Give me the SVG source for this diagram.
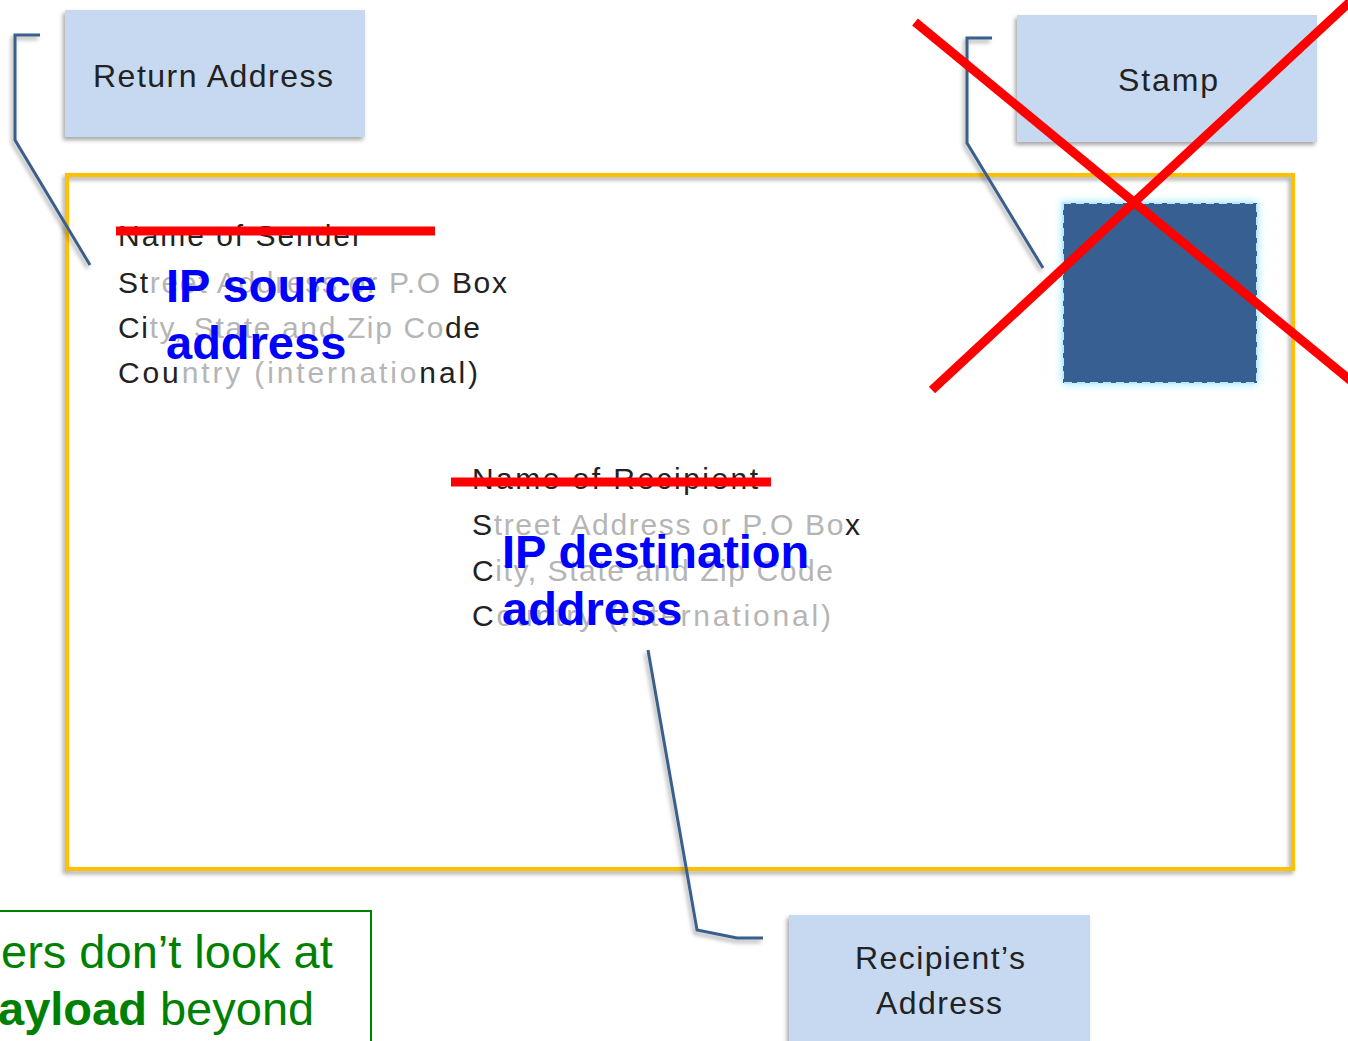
<svg xmlns="http://www.w3.org/2000/svg" width="1348" height="1041" viewBox="0 0 1348 1041">
<defs>
<filter id="sh" x="-10%" y="-10%" width="120%" height="130%">
<feDropShadow dx="-2" dy="3" stdDeviation="2" flood-color="#000" flood-opacity="0.35"/>
</filter>
<filter id="glow" x="-20%" y="-20%" width="140%" height="140%">
<feDropShadow dx="0" dy="0" stdDeviation="4" flood-color="#8FE6FF" flood-opacity="1"/>
</filter>
<style>
.lbl{fill:#C6D9F1;}
.lt{font-family:"Liberation Sans",Arial,sans-serif;font-size:32px;fill:#222;}
.addr{font-family:"Liberation Sans",Arial,sans-serif;font-size:30px;fill:#222;}
.fade{fill:#B5B5B5;}
.ip{font-family:"Liberation Sans",Arial,sans-serif;font-size:47px;font-weight:bold;fill:#0000FF;}
.call{fill:none;stroke:#3A5F8C;stroke-width:3;filter:url(#sh);}
.red{stroke:#FF0000;stroke-width:9;}
.gt{font-family:"Liberation Sans",Arial,sans-serif;font-size:47px;fill:#008000;}
</style>
</defs>
<rect width="1348" height="1041" fill="#fff"/>

<g id="envelope">
<rect x="67" y="175" width="1226" height="694" fill="none" stroke="#FFC000" stroke-width="4" filter="url(#sh)"/>
</g>

<g id="return-address">
<rect class="lbl" x="65" y="10" width="300" height="127" filter="url(#sh)"/>
<text class="lt" x="93" y="87" textLength="240">Return Address</text>
</g>

<g id="stamp-label">
<rect class="lbl" x="1017" y="15" width="300" height="127" filter="url(#sh)"/>
<text class="lt" x="1118" y="91" textLength="100">Stamp</text>
</g>

<g id="recipient-label">
<rect class="lbl" x="789" y="915" width="301" height="130" filter="url(#sh)"/>
<text class="lt" x="855" y="969" textLength="170">Recipient’s</text>
<text class="lt" x="876" y="1014" textLength="126">Address</text>
</g>

<g id="stamp">
<rect x="1063" y="203" width="194" height="180" fill="#375F91" stroke="#BFE8FF" stroke-width="2" stroke-dasharray="8 5" filter="url(#glow)"/>
</g>

<g id="sender">
<text class="addr" x="118" y="246" textLength="244">Name of Sender</text>
<text class="addr" x="118" y="293" textLength="389">St<tspan class="fade">reet Address or P.O</tspan> Box</text>
<text class="addr" x="118" y="338" textLength="362">Ci<tspan class="fade">ty, State and Zip Co</tspan>de</text>
<text class="addr" x="118" y="383" textLength="360">Cou<tspan class="fade">ntry (internatio</tspan>nal)</text>
<line class="red" x1="116" y1="231" x2="435" y2="231"/>
<text class="ip" x="166" y="302">IP source</text>
<text class="ip" x="166" y="359">address</text>
</g>

<g id="recipient">
<text class="addr" x="472" y="489" textLength="286">Name of Recipient</text>
<text class="addr fade" x="472" y="535" textLength="388"><tspan fill="#222">S</tspan>treet Address or P.O Bo<tspan fill="#222">x</tspan></text>
<text class="addr fade" x="472" y="581" textLength="361"><tspan fill="#222">C</tspan>ity, State and Zip Code</text>
<text class="addr fade" x="472" y="626" textLength="359"><tspan fill="#222">C</tspan>ountry (international)</text>
<line class="red" x1="451" y1="482" x2="771" y2="482"/>
<text class="ip" x="502" y="568">IP destination</text>
<text class="ip" x="502" y="625">address</text>
</g>

<g id="connectors">
<polyline class="call" points="40,35 15,35 15,140 90,265"/>
<polyline class="call" points="992,38 967,38 967,143 1043,268"/>
<polyline class="call" points="648,650 697,930 737,938 763,938"/>
</g>

<g id="cross">
<line class="red" x1="915" y1="22" x2="1356" y2="385"/>
<line class="red" x1="932" y1="390" x2="1352" y2="0"/>
</g>

<g id="note">
<rect x="-10" y="911" width="381" height="150" fill="none" stroke="#008000" stroke-width="2"/>
<text class="gt" x="1" y="968">ers don’t look at</text>
<text class="gt" x="-2" y="1025"><tspan font-weight="bold">ayload</tspan> beyond</text>
</g>
</svg>
